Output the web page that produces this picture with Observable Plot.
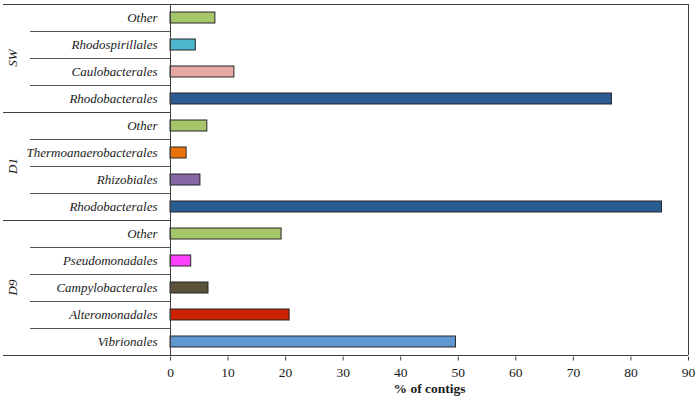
<!DOCTYPE html>
<html>
<head>
<meta charset="utf-8">
<script src="https://cdn.jsdelivr.net/npm/d3@7"></script>
<script src="https://cdn.jsdelivr.net/npm/@observablehq/plot@0.6"></script>
<style>
  html, body { margin: 0; padding: 0; background: #fff; }
  #chart svg { display: block; }
</style>
</head>
<body>
<div id="chart"></div>
<script>
// Data, top to bottom as in the reference
const groups = ["SW","SW","SW","SW","D1","D1","D1","D1","D9","D9","D9","D9","D9"];
const orders = ["Other","Rhodospirillales","Caulobacterales","Rhodobacterales",
                "Other","Thermoanaerobacterales","Rhizobiales","Rhodobacterales",
                "Other","Pseudomonadales","Campylobacterales","Alteromonadales","Vibrionales"];
const values = [7.8, 4.4, 11.1, 76.7, 6.4, 2.8, 5.2, 85.4, 19.3, 3.6, 6.6, 20.7, 49.6];
const colorOrders = ["Other","Rhodospirillales","Caulobacterales","Rhodobacterales",
                     "Thermoanaerobacterales","Rhizobiales","Pseudomonadales",
                     "Campylobacterales","Alteromonadales","Vibrionales"];
const colorValues = ["#a6c66a","#4db6cf","#e6a7a5","#2a5c91",
                     "#e8730a","#8466a6","#ff40ff",
                     "#5a5139","#cc2200","#5f97d0"];
const xTicks = [0,10,20,30,40,50,60,70,80,90];
const xLabel = "% of contigs";

(function () {
const data = groups.map((g, i) => ({key: g + "|" + i, group: g, order: orders[i], value: values[i]}));
const keys = data.map(d => d.key);
const nameOf = new Map(data.map(d => [d.key, d.order]));

const FONT = "'Liberation Serif', 'DejaVu Serif', serif";
const LINE = "#404040";

const plot = Plot.plot({
  width: 700,
  height: 400,
  marginLeft: 170,
  marginRight: 12,
  marginTop: 2.5,
  marginBottom: 43.5,
  style: {fontFamily: FONT, fontSize: "13px", color: "#1a1a1a", background: "#fff"},
  x: {domain: [0, 90], ticks: xTicks},
  y: {domain: keys, paddingInner: 0.6, paddingOuter: 0.3},
  color: {domain: colorOrders, range: colorValues},
  marks: [
    Plot.barX(data, {y: "key", x: "value", fill: "order", stroke: "#262626", strokeWidth: 1}),
    Plot.axisX({ticks: xTicks, tickSize: 4, tickPadding: 6, label: null, fontSize: 13.5, stroke: LINE}),
    Plot.axisY({tickSize: 0, tickPadding: 13, label: null, fontSize: 13, fontStyle: "italic",
                tickFormat: k => nameOf.get(k)}),
    Plot.text([xLabel], {frameAnchor: "bottom", dy: 36, fontWeight: "bold", fontSize: 13.5})
  ]
});

// Table-like separator lines, frame and group labels, positioned through the y scale
const ys = plot.scale("y");
const xs = plot.scale("x");
const centers = keys.map(k => ys.apply(k) + ys.bandwidth / 2);
const yTop = centers[0] - ys.step / 2;
const yBottom = centers[centers.length - 1] + ys.step / 2;
const x0 = xs.apply(0), xR = xs.apply(90);
const leftEdge = 3, innerEdge = 30;

const g = d3.select(plot).append("g").attr("fill", "none");
const line = (x1, y1, x2, y2, c) => g.append("line").attr("x1", x1).attr("y1", y1).attr("x2", x2).attr("y2", y2)
  .attr("stroke", c || LINE).attr("stroke-width", 1).attr("shape-rendering", "crispEdges");
line(leftEdge, yTop, xR, yTop);
line(leftEdge, yBottom, xR, yBottom);
line(xR, yTop, xR, yBottom);
line(x0, yTop, x0, yBottom);
for (let i = 0; i < keys.length - 1; i++) {
  const yb = (centers[i] + centers[i + 1]) / 2;
  const sameGroup = groups[i] === groups[i + 1];
  line(sameGroup ? innerEdge : leftEdge, yb, x0, yb, sameGroup ? "#555" : LINE);
}
const groupNames = Array.from(new Set(groups));
const lg = d3.select(plot).append("g")
  .attr("font-family", FONT).attr("font-size", 13).attr("font-style", "italic").attr("fill", "#1a1a1a");
for (const gn of groupNames) {
  const idx = groups.map((g2, i) => g2 === gn ? i : -1).filter(i => i >= 0);
  const yc = (centers[idx[0]] + centers[idx[idx.length - 1]]) / 2;
  lg.append("text").attr("transform", `translate(17,${yc}) rotate(-90)`)
    .attr("text-anchor", "middle").text(gn);
}

document.getElementById("chart").appendChild(plot);
})();
</script>
</body>
</html>
